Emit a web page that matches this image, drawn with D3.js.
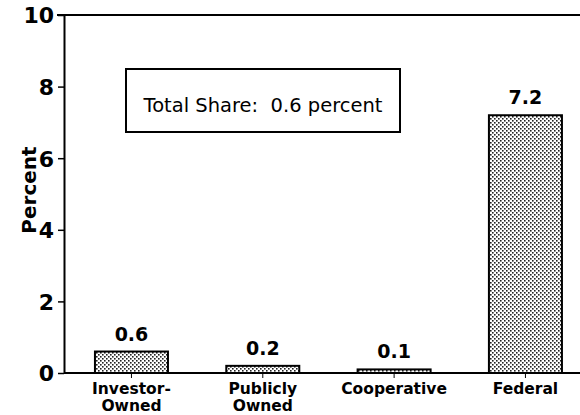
<!DOCTYPE html>
<html>
<head>
<meta charset="utf-8">
<script src="https://cdn.jsdelivr.net/npm/d3@7"></script>
<style>
  body { margin: 0; background: #fff; }
  text { font-family: "DejaVu Sans", "Liberation Sans", Arial, sans-serif; fill: #000; }
</style>
</head>
<body>
<script>
// data
var categories = ["Investor-Owned", "Publicly Owned", "Cooperative", "Federal"];
var labelLines = [["Investor-", "Owned"], ["Publicly", "Owned"], ["Cooperative"], ["Federal"]];
var shares = [0.6, 0.2, 0.1, 7.2];
var yTicks = [0, 2, 4, 6, 8, 10];
var noteText = "Total Share:  0.6 percent";

var width = 580, height = 415;

var svg = d3.select("body").append("svg")
    .attr("width", width)
    .attr("height", height);

// stipple fill for the bars
var pat = svg.append("defs").append("pattern")
    .attr("id", "dots")
    .attr("patternUnits", "userSpaceOnUse")
    .attr("width", 4)
    .attr("height", 4);
pat.append("rect").attr("width", 4).attr("height", 4).attr("fill", "#fff");
pat.append("rect").attr("x", 0).attr("y", 0).attr("width", 1.6).attr("height", 1.6).attr("fill", "#222");
pat.append("rect").attr("x", 2).attr("y", 2).attr("width", 1.6).attr("height", 1.6).attr("fill", "#222");

var x = d3.scaleBand()
    .domain(categories)
    .range([65.8, 591.1])
    .paddingInner(0.444)
    .paddingOuter(0.222);

var y = d3.scaleLinear()
    .domain([0, 10])
    .range([373, 15]);

// frame top line
svg.append("line")
    .attr("x1", 57).attr("x2", width)
    .attr("y1", y(10)).attr("y2", y(10))
    .attr("stroke", "#000").attr("stroke-width", 2);

// y axis
var yAxis = svg.append("g")
    .attr("transform", "translate(64,0)")
    .call(d3.axisLeft(y).tickValues(yTicks).tickSize(6).tickSizeOuter(0));
yAxis.select(".domain").attr("stroke-width", 2);
yAxis.selectAll("line").attr("stroke-width", 1.5);
yAxis.selectAll("text")
    .attr("font-size", 22)
    .attr("font-weight", "bold")
    .attr("dy", "0.36em")
    .attr("x", -10);

svg.append("text")
    .attr("transform", "translate(36,190) rotate(-90)")
    .attr("text-anchor", "middle")
    .attr("font-size", 20)
    .attr("font-weight", "bold")
    .text("Percent");

// bars
svg.selectAll("rect.bar")
    .data(shares)
    .enter().append("rect")
    .attr("class", "bar")
    .attr("x", function(d, i) { return x(categories[i]); })
    .attr("y", function(d) { return y(d); })
    .attr("width", x.bandwidth())
    .attr("height", function(d) { return y(0) - y(d); })
    .attr("fill", "url(#dots)")
    .attr("stroke", "#000")
    .attr("stroke-width", 2);

// value labels
svg.selectAll("text.val")
    .data(shares)
    .enter().append("text")
    .attr("class", "val")
    .attr("x", function(d, i) { return x(categories[i]) + x.bandwidth() / 2; })
    .attr("y", function(d) { return y(d) - 11; })
    .attr("text-anchor", "middle")
    .attr("font-size", 19)
    .attr("font-weight", "bold")
    .text(function(d) { return d.toFixed(1); });

// x axis baseline
var xAxis = svg.append("g")
    .attr("transform", "translate(0," + y(0) + ")")
    .call(d3.axisBottom(x).tickSize(5).tickSizeOuter(0).tickFormat(""));
xAxis.select(".domain").attr("d", "M64,0H" + width).attr("stroke-width", 2);

// category labels
svg.selectAll("text.cat")
    .data(labelLines)
    .enter().append("text")
    .attr("class", "cat")
    .attr("text-anchor", "middle")
    .attr("font-size", 15.5)
    .attr("font-weight", "bold")
    .attr("x", function(d, i) { return x(categories[i]) + x.bandwidth() / 2; })
    .attr("y", 394)
    .selectAll("tspan")
    .data(function(d) { return d; })
    .enter().append("tspan")
    .attr("x", function() { return d3.select(this.parentNode).attr("x"); })
    .attr("dy", function(d, i) { return i === 0 ? 0 : 16.5; })
    .text(function(d) { return d; });

// note box
svg.append("rect")
    .attr("x", 126).attr("y", 69)
    .attr("width", 274).attr("height", 63)
    .attr("fill", "none")
    .attr("stroke", "#000")
    .attr("stroke-width", 2);
svg.append("text")
    .attr("x", 263).attr("y", 112)
    .attr("text-anchor", "middle")
    .attr("font-size", 19.5)
    .style("white-space", "pre")
    .text(noteText);
</script>
</body>
</html>
